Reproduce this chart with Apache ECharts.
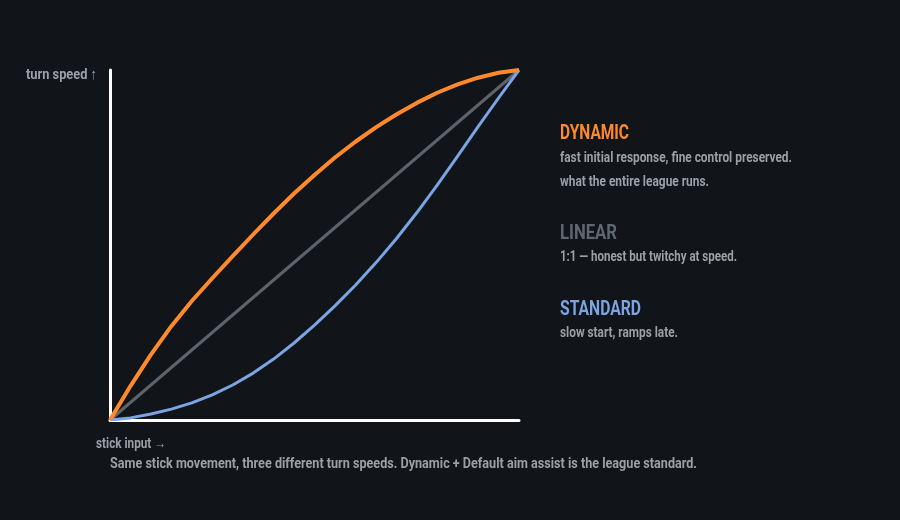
<!DOCTYPE html>
<html><head><meta charset="utf-8">
<script src="https://cdn.jsdelivr.net/npm/echarts@6/dist/echarts.min.js"></script>
<style>html,body{margin:0;padding:0;background:#111418;}#c{width:900px;height:520px;}</style>
</head><body><div id="c"></div>
<script>
const stickInput = [0, 0.05, 0.1, 0.15, 0.2, 0.25, 0.3, 0.35, 0.4, 0.45, 0.5, 0.55, 0.6, 0.65, 0.7, 0.75, 0.8, 0.85, 0.9, 0.95, 1.0];
const dynamicCurve = [0, 0.097, 0.187, 0.268, 0.340, 0.405, 0.468, 0.530, 0.590, 0.647, 0.700, 0.750, 0.795, 0.836, 0.873, 0.906, 0.935, 0.959, 0.978, 0.992, 1.0];
const linearCurve = [0, 0.05, 0.1, 0.15, 0.2, 0.25, 0.3, 0.35, 0.4, 0.45, 0.5, 0.55, 0.6, 0.65, 0.7, 0.75, 0.8, 0.85, 0.9, 0.95, 1.0];
const standardCurve = [0, 0.006, 0.017, 0.031, 0.049, 0.072, 0.10, 0.134, 0.174, 0.22, 0.271, 0.326, 0.385, 0.449, 0.518, 0.592, 0.671, 0.754, 0.838, 0.92, 1.0];
const seriesNames = ['DYNAMIC', 'LINEAR', 'STANDARD'];
const seriesNotes = [
  ['fast initial response, fine control preserved.', 'what the entire league runs.'],
  ['1:1 — honest but twitchy at speed.'],
  ['slow start, ramps late.']
];
const xAxisName = 'stick input →';
const yAxisName = 'turn speed ↑';
const caption = 'Same stick movement, three different turn speeds. Dynamic + Default aim assist is the league standard.';

const FONT = 'Roboto, "Noto Sans", sans-serif';
const colors = ['#ff8a2b', '#5d6368', '#7ba4e3'];
const titleColors = ['#ff8a2b', '#5f6770', '#7ba4e3'];
const textGray = '#9aa0a8';

function pairs(ys){ return stickInput.map((x,i)=>[x, ys[i]]); }

const ctx = document.createElement('canvas').getContext('2d');
function fitText(text, font, x, y, w, fill, align) {
  ctx.font = font;
  const m = ctx.measureText(text).width;
  return {type:'text', x: x, y: y, scaleX: w / m, silent: true,
          style:{text: text, x: 0, y: 0, fill: fill, font: font, textAlign: align || 'left', textVerticalAlign: 'middle'}};
}

const bodyFont = 'bold 15px ' + FONT;
const noteFont = 'bold 14px ' + FONT;
const titleFont = 'bold 21px ' + FONT;
const graphics = [
  fitText(yAxisName, bodyFont, 97, 75, 71, textGray, 'right'),
  fitText(xAxisName, bodyFont, 96, 444, 70, textGray),
  fitText(caption, bodyFont, 110, 464, 587, textGray)
];
const titleY = [134, 234, 310];
const titleW = [69, 57, 81];
const noteY = [[158, 182], [257], [333]];
const noteW = [[232, 149], [177], [118]];
seriesNames.forEach((n, i) => {
  graphics.push(fitText(n, titleFont, 560, titleY[i], titleW[i], titleColors[i]));
  seriesNotes[i].forEach((t, j) => {
    graphics.push(fitText(t, noteFont, 560, noteY[i][j], noteW[i][j], textGray));
  });
});

const chart = echarts.init(document.getElementById('c'), null, {renderer:'canvas'});
chart.setOption({
  backgroundColor: '#111418',
  animation: false,
  grid: {left: 110, right: 381, top: 70, bottom: 100},
  xAxis: {type:'value', min:0, max:1, axisLine:{show:true, onZero:false, lineStyle:{color:'#ffffff', width:3}},
          axisTick:{show:false}, axisLabel:{show:false}, splitLine:{show:false}},
  yAxis: {type:'value', min:0, max:1, axisLine:{show:true, onZero:false, lineStyle:{color:'#ffffff', width:3}},
          axisTick:{show:false}, axisLabel:{show:false}, splitLine:{show:false}},
  graphic: graphics,
  series: [
    {name: seriesNames[1], type:'line', data: pairs(linearCurve), showSymbol:false, smooth:false,
     lineStyle:{color: colors[1], width:3}, z:2},
    {name: seriesNames[2], type:'line', data: pairs(standardCurve), showSymbol:false, smooth:false,
     lineStyle:{color: colors[2], width:3, join:'round'}, z:3},
    {name: seriesNames[0], type:'line', data: pairs(dynamicCurve), showSymbol:false, smooth:false,
     lineStyle:{color: colors[0], width:4, join:'round'}, z:4}
  ]
});
</script></body></html>
